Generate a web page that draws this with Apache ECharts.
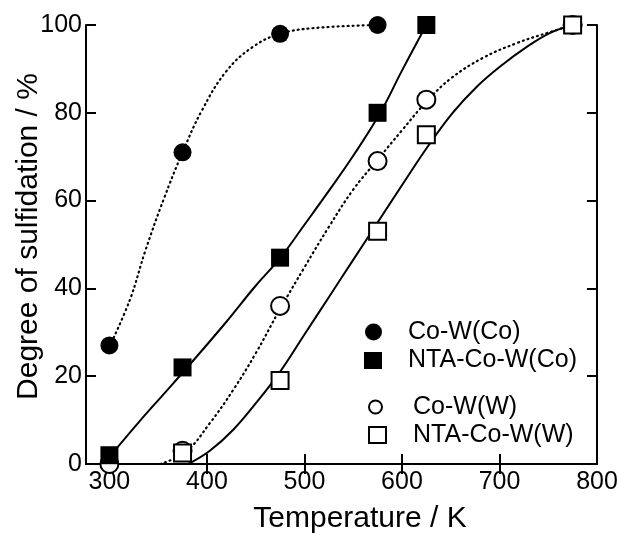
<!DOCTYPE html>
<html>
<head>
<meta charset="utf-8">
<script src="https://cdn.jsdelivr.net/npm/echarts@6/dist/echarts.min.js"></script>
<style>
  html, body { margin: 0; padding: 0; background: #fff; }
  #main { width: 621px; height: 533px; }
</style>
</head>
<body>
<div id="main"></div>
<script>
// measured points [temperature K, degree of sulfidation %]
var coWCo = [[300, 27], [375, 71], [475, 98], [575, 100]];
var ntaCoWCo = [[300, 2], [375, 22], [475, 47], [575, 80], [625, 100]];
var coWW = [[300, 0], [375, 3], [475, 36], [575, 69], [625, 83], [775, 100]];
var ntaCoWW = [[375, 2.5], [475, 19], [575, 53], [625, 75], [775, 100]];

// fitted curves
var coWCoFit = [[300, 26.7], [321, 37.4], [337, 48.7], [356, 60.5], [375, 71], [395, 80.6], [420, 89.5],
  [447, 95], [475, 98], [510, 99.3], [575, 100]];
var ntaCoWCoFit = [[300, 1.6], [330, 9.5], [360, 17], [390, 24.6], [420, 32.4], [450, 40.6],
  [475, 46.9], [500, 54.5], [525, 62.2], [550, 70.2], [577, 79.7], [600, 89.6], [625, 100]];
var coWWFit = [[352, 0], [378, 2.7], [403, 9.3], [427, 16.9], [450, 25.2], [475, 35.3], [500, 44.8],
  [525, 54], [550, 62.5], [575, 69.3], [600, 76], [625, 82.5], [650, 87.8], [683, 92.5], [718, 95.9],
  [752, 98.4], [775, 100]];
var ntaCoWWFit = [[381, 0], [403, 3], [427, 7.8], [450, 13.8], [475, 21], [500, 29.5], [525, 38],
  [550, 46.5], [575, 55], [600, 63.5], [627, 72.5], [652, 80], [677, 86], [701, 90.6], [728, 95],
  [752, 98.2], [775, 100]];

var xTicks = [300, 400, 500, 600, 700, 800];
var xTopTicks = [300, 400, 500, 600, 700];

var font = 'Liberation Sans, Arial, sans-serif';

var myChart = echarts.init(document.getElementById('main'));

function fitLine(data, dotted) {
  return {
    type: 'line',
    data: data,
    smooth: 0.4,
    symbol: 'none',
    clip: false,
    silent: true,
    z: 1,
    lineStyle: dotted
      ? { color: '#000', width: 2.2, type: [1, 4], cap: 'round', opacity: 1 }
      : { color: '#000', width: 2, opacity: 1 }
  };
}

function legendItem(name, icon, w, h, left, top, pad) {
  return {
    data: [{ name: name, icon: icon }],
    orient: 'vertical',
    left: left,
    top: top,
    padding: 0,
    itemWidth: w,
    itemHeight: h,
    selectedMode: false,
    textStyle: { fontSize: 25, color: '#000', fontFamily: font, padding: [0, 0, 0, pad] }
  };
}

var tickStyle = { color: '#000', width: 2 };

myChart.setOption({
  animation: false,
  backgroundColor: '#fff',
  grid: { left: 86, right: 24, top: 25, bottom: 69, containLabel: false, outerBoundsMode: 'none' },
  legend: [
    legendItem('Co-W(Co)', 'circle', 17, 17, 365, 319.5, 21),
    legendItem('NTA-Co-W(Co)', 'rect', 18, 17, 364, 348, 21),
    legendItem('Co-W(W)', 'emptyCircle', 13, 13, 368, 394.5, 26),
    legendItem('NTA-Co-W(W)', 'emptyRect', 17, 16, 368, 422.5, 22)
  ],
  xAxis: [{
    type: 'value',
    min: 276,
    max: 800,
    name: 'Temperature / K',
    nameLocation: 'middle',
    nameGap: 40,
    nameMoveOverlap: false,
    nameTextStyle: { fontSize: 30, color: '#000', fontFamily: font, padding: [0, 0, 0, 37] },
    axisLine: { show: true, lineStyle: { color: '#000', width: 2 } },
    axisTick: { show: true, inside: true, length: 10, customValues: xTicks, lineStyle: tickStyle },
    axisLabel: { show: true, customValues: xTicks, fontSize: 25, color: '#000', fontFamily: font, margin: 6 },
    splitLine: { show: false }
  }, {
    type: 'value',
    position: 'top',
    min: 276,
    max: 800,
    axisLine: { show: true, lineStyle: { color: '#000', width: 2 } },
    axisTick: { show: true, inside: true, length: 10, customValues: xTopTicks, lineStyle: tickStyle },
    axisLabel: { show: false },
    splitLine: { show: false }
  }],
  yAxis: [{
    type: 'value',
    min: 0,
    max: 100,
    interval: 20,
    name: 'Degree of sulfidation / %',
    nameLocation: 'middle',
    nameGap: 42,
    nameMoveOverlap: false,
    nameTextStyle: { fontSize: 30, color: '#000', fontFamily: font, padding: [0, 0, 0, 16] },
    axisLine: { show: true, lineStyle: { color: '#000', width: 2 } },
    axisTick: { show: true, inside: true, length: 10, lineStyle: tickStyle },
    axisLabel: { fontSize: 25, color: '#000', fontFamily: font, margin: 4 },
    splitLine: { show: false }
  }, {
    type: 'value',
    position: 'right',
    min: 0,
    max: 100,
    interval: 20,
    axisLine: { show: true, lineStyle: { color: '#000', width: 2 } },
    axisTick: { show: true, inside: true, length: 10, lineStyle: tickStyle },
    axisLabel: { show: false },
    splitLine: { show: false }
  }],
  series: [
    fitLine(coWCoFit, true),
    fitLine(ntaCoWCoFit, false),
    fitLine(coWWFit, true),
    fitLine(ntaCoWWFit, false),
    {
      name: 'Co-W(W)', type: 'scatter', data: coWW, symbol: 'emptyCircle', symbolSize: 18,
      itemStyle: { color: '#000', borderWidth: 2, opacity: 1 }, z: 3
    },
    {
      name: 'NTA-Co-W(W)', type: 'scatter', data: ntaCoWW, symbol: 'emptyRect', symbolSize: 17,
      itemStyle: { color: '#000', borderWidth: 2, opacity: 1 }, z: 3
    },
    {
      name: 'Co-W(Co)', type: 'scatter', data: coWCo, symbol: 'circle', symbolSize: 18,
      itemStyle: { color: '#000', opacity: 1 }, z: 4
    },
    {
      name: 'NTA-Co-W(Co)', type: 'scatter', data: ntaCoWCo, symbol: 'rect', symbolSize: 18,
      itemStyle: { color: '#000', opacity: 1 }, z: 4
    }
  ]
});
</script>
</body>
</html>
